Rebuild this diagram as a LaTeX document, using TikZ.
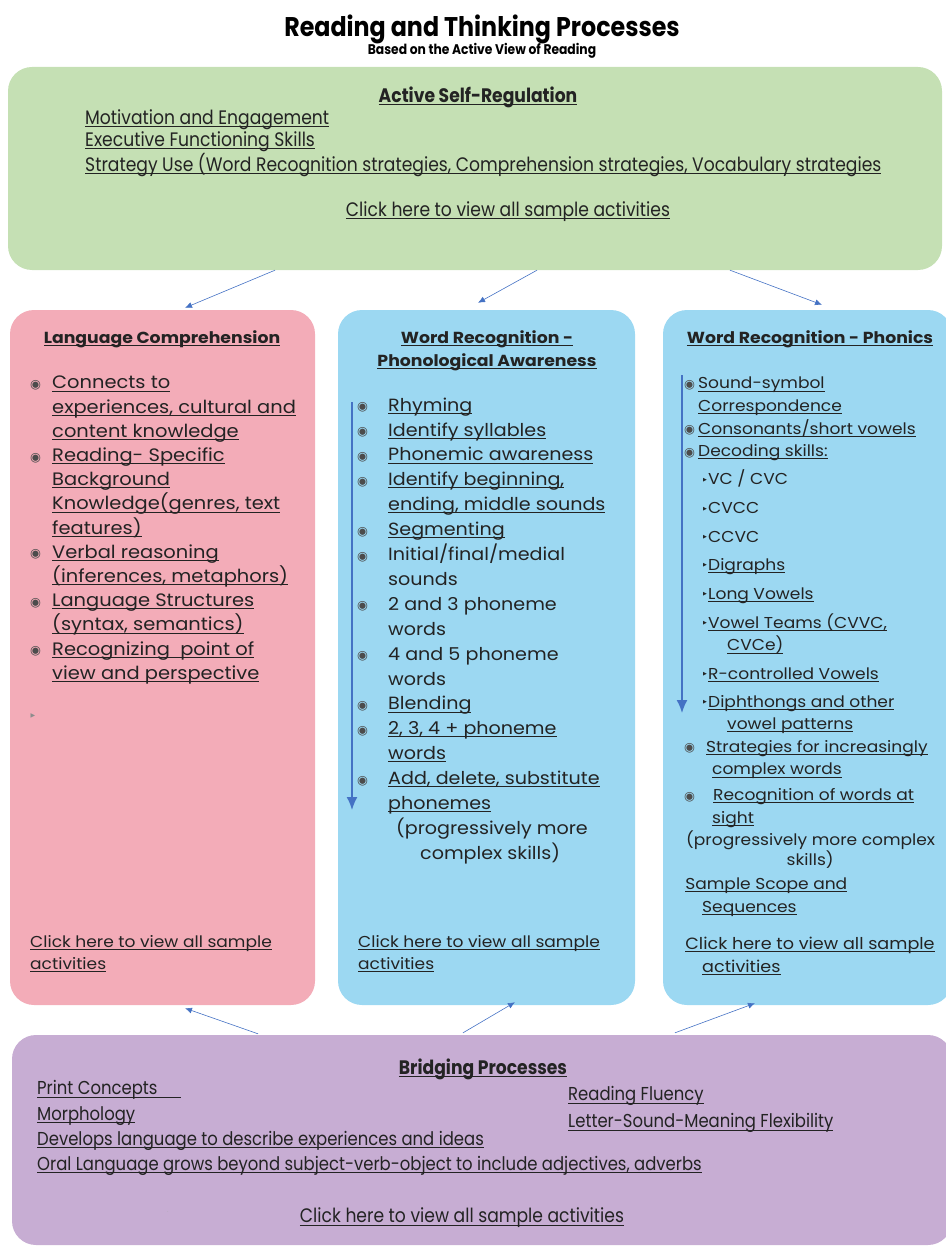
\documentclass[tikz,border=0pt]{standalone}
\usepackage{fontspec}
\setmainfont{Poppins}
\newfontfamily\narrowfont[FakeStretch=0.88]{Poppins}
\newfontfamily\bodyfont[FakeStretch=1.08]{Poppins}
\newfontfamily\symfont{DejaVu Sans}
\usetikzlibrary{arrows.meta,positioning}

\definecolor{regGreen}{RGB}{197,224,180}
\definecolor{compPink}{RGB}{243,172,184}
\definecolor{wordBlue}{RGB}{156,216,242}
\definecolor{bridgePurple}{RGB}{199,173,211}
\definecolor{linkBlue}{RGB}{68,114,196}
\definecolor{ink}{RGB}{35,35,35}

% link text: rule just under the baseline
\newcommand{\lnk}[1]{\setbox0\hbox{#1}\rlap{\rule[-2.4pt]{\wd0}{0.8pt}}\box0}
% round bullet in a box of the given width
\newcommand{\bul}[1]{\makebox[#1][l]{\raisebox{0.5pt}{\symfont\fontsize{12.5}{12.5}\selectfont\color{black!70}◉}}}
% small triangle of the decoding sub-list
\newcommand{\tri}{\makebox[5pt][l]{\raisebox{3.5pt}{\symfont\fontsize{5}{5}\selectfont ▶}}}

\begin{document}
\begin{tikzpicture}[x=1pt,y=-1pt,
  panel/.style={rectangle, rounded corners=24pt, draw=none, inner sep=0pt},
  head/.style={font=\bodyfont\bfseries\fontsize{16}{23}\selectfont, align=center, text=ink, inner sep=0pt},
  wide/.style={font=\narrowfont\fontsize{19.5}{22.5}\selectfont, align=left, text=ink, inner sep=0pt},
  body/.style={font=\bodyfont\fontsize{18}{24.2}\selectfont, align=left, text=ink, inner sep=0pt},
  link/.style={-{Latex[length=7pt,width=6pt]}, linkBlue, line width=0.6pt},
  flow/.style={-{Latex[length=13pt,width=11pt]}, linkBlue, line width=1.6pt}]
\useasboundingbox (0,0) rectangle (945,1249);

\node[font=\narrowfont\bfseries\fontsize{27}{27}\selectfont] (title) at (482,29) {Reading and Thinking Processes};
\node[font=\narrowfont\bfseries\fontsize{14}{14}\selectfont] (subtitle) at (482,51) {Based on the Active View of Reading};

% boxes
\node[panel, fill=regGreen, minimum width=934pt, minimum height=203pt] (selfreg) at (475,168.5) {};
\node[panel, fill=compPink, minimum width=305pt, minimum height=695pt] (langcomp) at (162.5,657.5) {};
\node[panel, fill=wordBlue, minimum width=297pt, minimum height=695pt] (phon) at (486.5,657.5) {};
\node[panel, fill=wordBlue, minimum width=289pt, minimum height=695pt] (phonics) at (807.5,657.5) {};
\node[panel, fill=bridgePurple, minimum width=940pt, minimum height=210pt] (bridge) at (482,1140) {};

% active self-regulation
\node[head, font=\narrowfont\bfseries\fontsize{19.5}{19.5}\selectfont] (selfregHead) at (478,97) {\lnk{Active Self-Regulation}};
\node[wide, anchor=north west] (selfregList) at (85,109) {\lnk{Motivation and Engagement}\\
\lnk{Executive Functioning Skills}\\
\lnk{Strategy Use (Word Recognition strategies, Comprehension strategies, Vocabulary strategies}};
\node[wide] (selfregClick) at (508,212) {\lnk{Click here to view all sample activities}};

% language comprehension
\node[head] (langHead) at (162,339) {\lnk{Language Comprehension}};
\node[body, anchor=north west] (langList) at (30,376) {\bul{22pt}\lnk{Connects to}\\
\hspace*{22pt}\lnk{experiences, cultural and}\\
\hspace*{22pt}\lnk{content knowledge}\\
\bul{22pt}\lnk{Reading- Specific}\\
\hspace*{22pt}\lnk{Background}\\
\hspace*{22pt}\lnk{Knowledge(genres, text}\\
\hspace*{22pt}\lnk{features)}\\
\bul{22pt}\lnk{Verbal reasoning}\\
\hspace*{22pt}\lnk{(inferences, metaphors)}\\
\bul{22pt}\lnk{Language Structures}\\
\hspace*{22pt}\lnk{(syntax, semantics)}\\
\bul{22pt}\lnk{Recognizing\ \ point of}\\
\hspace*{22pt}\lnk{view and perspective}};
\node[text=black!45, font=\symfont\fontsize{6}{6}\selectfont] (langMark) at (33,716) {▶};
\node[body, font=\bodyfont\fontsize{15.8}{22}\selectfont, anchor=north west] (langClick) at (30,935) {\lnk{Click here to view all sample}\\
\lnk{activities}};

% phonological awareness
\node[head] (phonHead) at (487,350.5) {\lnk{Word Recognition -}\\\lnk{Phonological Awareness}};
\node[body, font=\bodyfont\fontsize{17.7}{24.9}\selectfont, anchor=north west] (phonList) at (357,397.5) {\bul{31pt}\lnk{Rhyming}\\
\bul{31pt}\lnk{Identify syllables}\\
\bul{31pt}\lnk{Phonemic awareness}\\
\bul{31pt}\lnk{Identify beginning,}\\
\hspace*{31pt}\lnk{ending, middle sounds}\\
\bul{31pt}\lnk{Segmenting}\\
\bul{31pt}Initial/final/medial\\
\hspace*{31pt}sounds\\
\bul{31pt}2 and 3 phoneme\\
\hspace*{31pt}words\\
\bul{31pt}4 and 5 phoneme\\
\hspace*{31pt}words\\
\bul{31pt}\lnk{Blending}\\
\bul{31pt}\lnk{2, 3, 4 + phoneme}\\
\hspace*{31pt}\lnk{words}\\
\bul{31pt}\lnk{Add, delete, substitute}\\
\hspace*{31pt}\lnk{phonemes}\\
\hspace*{39pt}(progressively more\\
\hspace*{63pt}complex skills)};
\node[body, font=\bodyfont\fontsize{15.8}{22}\selectfont, anchor=north west] (phonClick) at (358,935) {\lnk{Click here to view all sample}\\
\lnk{activities}};
\coordinate (phonTop) at (352,402);
\coordinate (phonEnd) at (352,810);
\draw[flow] (phonTop) -- (phonEnd);

% phonics
\node[head] (phonicsHead) at (810,339) {\lnk{Word Recognition - Phonics}};
\node[body, font=\bodyfont\fontsize{15.8}{22.6}\selectfont, anchor=north west] (phonicsList) at (684,377) {\bul{14pt}\lnk{Sound-symbol}\\
\hspace*{14pt}\lnk{Correspondence}\\
\bul{14pt}\lnk{Consonants/short vowels}\\
\bul{14pt}\lnk{Decoding skills:}\\[5.5pt]
\hspace*{19pt}\tri VC / CVC\\[6.5pt]
\hspace*{19pt}\tri CVCC\\[5.5pt]
\hspace*{19pt}\tri CCVC\\[5.5pt]
\hspace*{19pt}\tri\lnk{Digraphs}\\[6.5pt]
\hspace*{19pt}\tri\lnk{Long Vowels}\\[6.5pt]
\hspace*{19pt}\tri\lnk{Vowel Teams (CVVC,}\\
\hspace*{43pt}\lnk{CVCe)}\\[5.5pt]
\hspace*{19pt}\tri\lnk{R-controlled Vowels}\\[5.5pt]
\hspace*{19pt}\tri\lnk{Diphthongs and other}\\
\hspace*{43pt}\lnk{vowel patterns}\\
\bul{22pt}\lnk{Strategies for increasingly}\\
\hspace*{28pt}\lnk{complex words}\\[3pt]
\bul{29pt}\lnk{Recognition of words at}\\
\hspace*{28pt}\lnk{sight}\\
\hspace*{2pt}(progressively more complex\\[-2.5pt]
\makebox[252pt][c]{skills)}\\[1pt]
{\color{black!30}\tiny.}\lnk{Sample Scope and}\\
\hspace*{18pt}\lnk{Sequences}\\[15pt]
{\color{black!30}\tiny.}{\fontsize{16.3}{22}\selectfont\lnk{Click here to view all sample}}\\
\hspace*{18pt}{\fontsize{16.3}{22}\selectfont\lnk{activities}}};
\coordinate (phonicsTop) at (682,375);
\coordinate (phonicsEnd) at (682,713);
\draw[flow] (phonicsTop) -- (phonicsEnd);

% bridging processes
\node[head, font=\narrowfont\bfseries\fontsize{19.5}{19.5}\selectfont] (bridgeHead) at (483,1069) {\lnk{Bridging Processes}};
\node[wide, font=\narrowfont\fontsize{18.7}{25.3}\selectfont, anchor=north west] (bridgeLeft) at (37,1080.5) {\lnk{Print Concepts\hspace{24pt}}\\
\lnk{Morphology}\\
\lnk{Develops language to describe experiences and ideas}\\
\lnk{Oral Language grows beyond subject-verb-object to include adjectives, adverbs}};
\node[wide, font=\narrowfont\fontsize{18.7}{27}\selectfont, anchor=north west] (bridgeRight) at (568,1086.5) {\lnk{Reading Fluency}\\
\lnk{Letter-Sound-Meaning Flexibility}};
\node[wide] (bridgeClick) at (462,1218) {\lnk{Click here to view all sample activities}};
\node[text=black!35, font=\tiny] (bridgeMark) at (168,1212) {.};

% links between the boxes
\draw[link] ([xshift=-200pt]selfreg.south) -- ([xshift=22.5pt,yshift=2pt]langcomp.north);
\draw[link] ([xshift=62pt]selfreg.south) -- ([xshift=-8.5pt,yshift=7pt]phon.north);
\draw[link] ([xshift=255pt]selfreg.south) -- ([xshift=14.5pt,yshift=5pt]phonics.north);
\draw[link] ([xshift=-224pt,yshift=1pt]bridge.north) -- ([xshift=22.5pt,yshift=-3pt]langcomp.south);
\draw[link] ([xshift=-19pt,yshift=2pt]bridge.north) -- ([xshift=28.5pt,yshift=3pt]phon.south);
\draw[link] ([xshift=193pt,yshift=2pt]bridge.north) -- ([xshift=-52.5pt,yshift=2pt]phonics.south);
\end{tikzpicture}
\end{document}
